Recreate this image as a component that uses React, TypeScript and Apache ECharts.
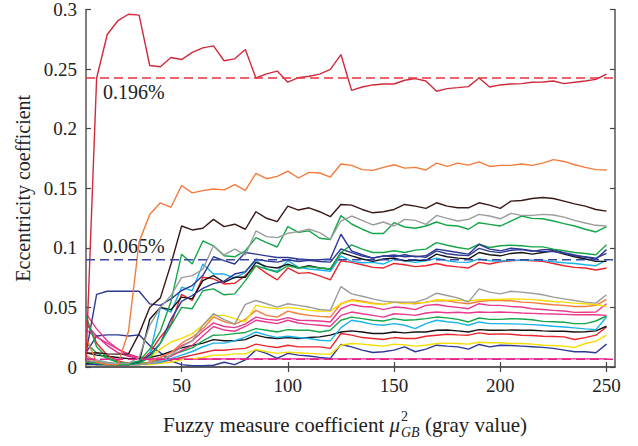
import React, { useEffect, useRef } from "react";
import * as echarts from "echarts";

const grayLevels = [5, 10, 15, 20, 25, 30, 35, 40, 45, 50, 55, 60, 65, 70, 75, 80, 85, 90, 95, 100, 105, 110, 115, 120, 125, 130, 135, 140, 145, 150, 155, 160, 165, 170, 175, 180, 185, 190, 195, 200, 205, 210, 215, 220, 225, 230, 235, 240, 245, 250];
const xTickValues = [50, 100, 150, 200, 250];
const xMin = 5;
const xMax = 254;

const redTop = [0.005, 0.2425, 0.279, 0.2906, 0.296, 0.2953, 0.253, 0.252, 0.2597, 0.258, 0.264, 0.2678, 0.2695, 0.257, 0.2586, 0.2664, 0.2425, 0.246, 0.2483, 0.239, 0.2428, 0.244, 0.2458, 0.2497, 0.2622, 0.2322, 0.235, 0.2367, 0.2375, 0.2375, 0.2406, 0.242, 0.24, 0.2314, 0.2336, 0.2344, 0.2353, 0.2425, 0.235, 0.2367, 0.2375, 0.2378, 0.239, 0.2392, 0.24, 0.2378, 0.239, 0.24, 0.2414, 0.2458];
const orange1 = [0.025, 0.004, 0.002, 0.002, 0.03, 0.105, 0.128, 0.1378, 0.134, 0.1523, 0.1461, 0.148, 0.1494, 0.1486, 0.1531, 0.1483, 0.1625, 0.158, 0.16, 0.1644, 0.1586, 0.1633, 0.1628, 0.1594, 0.1703, 0.1692, 0.1656, 0.165, 0.1675, 0.1697, 0.1669, 0.1675, 0.1653, 0.1711, 0.1683, 0.1711, 0.1694, 0.1722, 0.1683, 0.1692, 0.1692, 0.1703, 0.1692, 0.1711, 0.174, 0.1725, 0.1697, 0.1675, 0.1656, 0.1653];
const brown1 = [0.0114, 0.012, 0.011, 0.0108, 0.011, 0.028, 0.05, 0.058, 0.0864, 0.1183, 0.115, 0.1164, 0.1239, 0.1178, 0.1198, 0.1156, 0.1303, 0.1248, 0.122, 0.135, 0.1317, 0.1336, 0.1303, 0.1261, 0.1364, 0.1358, 0.1322, 0.1294, 0.1303, 0.1322, 0.1364, 0.135, 0.1331, 0.1378, 0.135, 0.1336, 0.1336, 0.1378, 0.1358, 0.1331, 0.1392, 0.1397, 0.1414, 0.1422, 0.1414, 0.1392, 0.1369, 0.135, 0.1322, 0.1308];
const gray1 = [0.008, 0.006, 0.004, 0.003, 0.003, 0.008, 0.035, 0.05, 0.06, 0.075, 0.0767, 0.082, 0.1017, 0.094, 0.099, 0.094, 0.1142, 0.1094, 0.1086, 0.1122, 0.1136, 0.1156, 0.1128, 0.1072, 0.1225, 0.1267, 0.123, 0.1192, 0.1217, 0.1183, 0.1239, 0.123, 0.1197, 0.1272, 0.1247, 0.1225, 0.1239, 0.1281, 0.1267, 0.1244, 0.1289, 0.1272, 0.1272, 0.1281, 0.1275, 0.1258, 0.123, 0.1208, 0.1189, 0.1183];
const green1 = [0.043, 0.017, 0.008, 0.004, 0.003, 0.005, 0.015, 0.03, 0.055, 0.0947, 0.0864, 0.1058, 0.1017, 0.0933, 0.0925, 0.0975, 0.1086, 0.1044, 0.1007, 0.1178, 0.113, 0.1142, 0.108, 0.107, 0.127, 0.12, 0.1156, 0.112, 0.112, 0.1211, 0.1175, 0.1164, 0.1183, 0.1217, 0.1189, 0.1183, 0.1156, 0.1211, 0.1197, 0.1183, 0.1225, 0.1267, 0.1247, 0.1244, 0.1225, 0.1203, 0.1183, 0.1156, 0.1133, 0.1178];
const green2 = [0.004, 0.003, 0.002, 0.002, 0.002, 0.003, 0.008, 0.02, 0.035, 0.05, 0.0489, 0.064, 0.0656, 0.0606, 0.0614, 0.0725, 0.085, 0.0822, 0.0794, 0.085, 0.0831, 0.0842, 0.0831, 0.0822, 0.0961, 0.1025, 0.0989, 0.0961, 0.0961, 0.0975, 0.0961, 0.0981, 0.0989, 0.1044, 0.1022, 0.1003, 0.0989, 0.103, 0.1003, 0.1017, 0.1022, 0.1017, 0.1008, 0.1008, 0.0989, 0.0975, 0.0961, 0.0953, 0.0942, 0.1025];
const navy1 = [0.0114, 0.061, 0.0636, 0.0636, 0.0636, 0.0636, 0.053, 0.0517, 0.0572, 0.0642, 0.0683, 0.0767, 0.0925, 0.0892, 0.0864, 0.0961, 0.0947, 0.0933, 0.0919, 0.0919, 0.0906, 0.09, 0.09, 0.0906, 0.1114, 0.0975, 0.0942, 0.0914, 0.0933, 0.0925, 0.0942, 0.0925, 0.0933, 0.0989, 0.0975, 0.0961, 0.0947, 0.103, 0.0989, 0.0975, 0.0997, 0.0989, 0.0975, 0.0969, 0.0969, 0.0953, 0.0933, 0.0925, 0.0914, 0.0953];
const navy2 = [0.002, 0.002, 0.002, 0.002, 0.002, 0.004, 0.01, 0.02, 0.04, 0.055, 0.06, 0.066, 0.07, 0.072, 0.078, 0.08, 0.0905, 0.089, 0.088, 0.09, 0.0885, 0.0895, 0.0885, 0.088, 0.099, 0.096, 0.093, 0.0915, 0.093, 0.094, 0.0925, 0.093, 0.092, 0.0975, 0.095, 0.094, 0.0935, 0.0995, 0.097, 0.096, 0.098, 0.0985, 0.097, 0.0985, 0.0985, 0.096, 0.094, 0.092, 0.0905, 0.0985];
const black1 = [0.003, 0.002, 0.002, 0.002, 0.002, 0.004, 0.04, 0.05, 0.048, 0.0586, 0.0572, 0.0725, 0.0767, 0.0711, 0.0753, 0.0753, 0.0878, 0.0842, 0.0831, 0.0864, 0.0831, 0.085, 0.0831, 0.0822, 0.0961, 0.0933, 0.0906, 0.0886, 0.0906, 0.0914, 0.0892, 0.0897, 0.0895, 0.0947, 0.0925, 0.0914, 0.0906, 0.0961, 0.0942, 0.0933, 0.0953, 0.0961, 0.0947, 0.0961, 0.0975, 0.0947, 0.0925, 0.0906, 0.0886, 0.0886];
const cyan1 = [0.004, 0.002, 0.002, 0.002, 0.002, 0.003, 0.01, 0.05, 0.046, 0.067, 0.064, 0.0864, 0.078, 0.078, 0.0747, 0.0794, 0.0897, 0.0822, 0.0803, 0.0892, 0.0836, 0.0822, 0.0814, 0.0803, 0.0933, 0.0886, 0.0875, 0.0878, 0.0864, 0.0906, 0.0892, 0.0878, 0.0892, 0.0914, 0.0892, 0.088, 0.0878, 0.0906, 0.0892, 0.089, 0.0895, 0.0897, 0.0897, 0.0895, 0.0883, 0.0875, 0.0869, 0.0858, 0.085, 0.0897];
const red1 = [0.039, 0.02, 0.01, 0.005, 0.003, 0.004, 0.012, 0.025, 0.036, 0.061, 0.0558, 0.0753, 0.074, 0.0697, 0.0703, 0.0767, 0.085, 0.0786, 0.0731, 0.0831, 0.0786, 0.0792, 0.0764, 0.0731, 0.0892, 0.0878, 0.0858, 0.0836, 0.0831, 0.0869, 0.0858, 0.0842, 0.085, 0.0869, 0.085, 0.084, 0.0831, 0.0878, 0.0864, 0.0883, 0.0892, 0.0897, 0.0892, 0.0886, 0.0869, 0.085, 0.0836, 0.0831, 0.0814, 0.0831];
const gray2 = [0.006, 0.004, 0.003, 0.002, 0.002, 0.002, 0.003, 0.005, 0.01, 0.017, 0.022, 0.035, 0.0447, 0.0397, 0.036, 0.0525, 0.0558, 0.0531, 0.0503, 0.0531, 0.0517, 0.0503, 0.0483, 0.0475, 0.0675, 0.0614, 0.0594, 0.0572, 0.0553, 0.0544, 0.0544, 0.0544, 0.0572, 0.0619, 0.06, 0.058, 0.0544, 0.0656, 0.0628, 0.0614, 0.0636, 0.0628, 0.0619, 0.0606, 0.0586, 0.0572, 0.0558, 0.0544, 0.0536, 0.0606];
const yellow1 = [0.002, 0.002, 0.002, 0.002, 0.002, 0.003, 0.008, 0.015, 0.021, 0.024, 0.028, 0.035, 0.0433, 0.0433, 0.0406, 0.0378, 0.0517, 0.05, 0.0489, 0.05, 0.049, 0.0475, 0.047, 0.0469, 0.053, 0.0558, 0.0544, 0.0531, 0.0525, 0.0544, 0.053, 0.0539, 0.054, 0.0564, 0.056, 0.056, 0.0555, 0.0564, 0.0567, 0.0567, 0.0572, 0.057, 0.0565, 0.0558, 0.055, 0.0544, 0.0536, 0.0531, 0.0525, 0.0508];
const orange2 = [0.01, 0.004, 0.002, 0.002, 0.002, 0.002, 0.004, 0.008, 0.012, 0.02, 0.025, 0.032, 0.042, 0.038, 0.036, 0.04, 0.0475, 0.0433, 0.0419, 0.0469, 0.0447, 0.0433, 0.0425, 0.0419, 0.0531, 0.0564, 0.0553, 0.0536, 0.0525, 0.0544, 0.0536, 0.0531, 0.0544, 0.0558, 0.0555, 0.054, 0.0531, 0.055, 0.0558, 0.0558, 0.0556, 0.0544, 0.054, 0.0531, 0.0522, 0.0517, 0.0508, 0.0508, 0.0517, 0.0567];
const pink1 = [0.045, 0.032, 0.022, 0.015, 0.01, 0.008, 0.006, 0.008, 0.012, 0.018, 0.022, 0.03, 0.037, 0.034, 0.033, 0.036, 0.0419, 0.04, 0.0392, 0.0414, 0.0392, 0.039, 0.0386, 0.0378, 0.0489, 0.0525, 0.0508, 0.0503, 0.0481, 0.0503, 0.0497, 0.0481, 0.0517, 0.0525, 0.051, 0.05, 0.0489, 0.0531, 0.0517, 0.0517, 0.0508, 0.0503, 0.0489, 0.0483, 0.0475, 0.047, 0.0458, 0.046, 0.0461, 0.0531];
const pink2 = [0.031, 0.025, 0.02, 0.015, 0.011, 0.008, 0.006, 0.006, 0.009, 0.014, 0.018, 0.026, 0.034, 0.031, 0.03, 0.034, 0.0392, 0.0378, 0.0364, 0.0392, 0.0369, 0.0358, 0.035, 0.0342, 0.0433, 0.0461, 0.0447, 0.0433, 0.0419, 0.0447, 0.0442, 0.0433, 0.0453, 0.0461, 0.0455, 0.046, 0.0453, 0.0461, 0.0458, 0.0461, 0.0458, 0.0453, 0.045, 0.0447, 0.0445, 0.0442, 0.0439, 0.0439, 0.0439, 0.0433];
const green3 = [0.02, 0.012, 0.007, 0.004, 0.003, 0.003, 0.004, 0.006, 0.01, 0.013, 0.016, 0.022, 0.0267, 0.027, 0.028, 0.029, 0.0322, 0.0308, 0.0294, 0.0314, 0.0308, 0.0308, 0.0294, 0.0308, 0.0392, 0.0419, 0.0406, 0.0392, 0.0386, 0.0406, 0.0392, 0.0397, 0.0406, 0.0419, 0.0412, 0.04, 0.0378, 0.0411, 0.04, 0.04, 0.0406, 0.0403, 0.0397, 0.0383, 0.038, 0.0375, 0.0364, 0.0364, 0.0386, 0.0428];
const cyan2 = [0.008, 0.005, 0.003, 0.002, 0.002, 0.002, 0.003, 0.004, 0.007, 0.01, 0.013, 0.017, 0.02, 0.02, 0.022, 0.025, 0.0294, 0.0267, 0.0247, 0.0258, 0.0247, 0.0239, 0.0225, 0.0219, 0.033, 0.0392, 0.0378, 0.0358, 0.035, 0.0364, 0.035, 0.0322, 0.0364, 0.0392, 0.038, 0.037, 0.035, 0.0378, 0.0364, 0.0364, 0.0362, 0.036, 0.0356, 0.035, 0.0342, 0.0336, 0.0328, 0.032, 0.0314, 0.0419];
const black2 = [0.012, 0.01, 0.009, 0.008, 0.007, 0.007, 0.008, 0.01, 0.013, 0.016, 0.018, 0.02, 0.023, 0.022, 0.022, 0.023, 0.0267, 0.0247, 0.0239, 0.0247, 0.0239, 0.0247, 0.0253, 0.0267, 0.0294, 0.0303, 0.0294, 0.0281, 0.0281, 0.0294, 0.0286, 0.0294, 0.0294, 0.0308, 0.031, 0.0303, 0.0294, 0.0314, 0.0308, 0.0308, 0.031, 0.0308, 0.0308, 0.0303, 0.03, 0.03, 0.0294, 0.0296, 0.0303, 0.0342];
const red2 = [0.005, 0.003, 0.002, 0.002, 0.002, 0.002, 0.003, 0.004, 0.006, 0.008, 0.01, 0.012, 0.014, 0.014, 0.015, 0.0156, 0.0192, 0.0175, 0.0164, 0.0183, 0.0169, 0.0169, 0.0169, 0.0156, 0.0281, 0.0267, 0.0247, 0.0239, 0.0231, 0.0247, 0.0239, 0.0239, 0.0258, 0.0267, 0.0275, 0.027, 0.0267, 0.0286, 0.0275, 0.0278, 0.0275, 0.0267, 0.0264, 0.0258, 0.0256, 0.0253, 0.0231, 0.0247, 0.0267, 0.0336];
const yellow2 = [0.004, 0.003, 0.002, 0.002, 0.002, 0.002, 0.002, 0.003, 0.004, 0.006, 0.007, 0.008, 0.01, 0.01, 0.011, 0.011, 0.0147, 0.0128, 0.0114, 0.0125, 0.0119, 0.0114, 0.0108, 0.0108, 0.0183, 0.0197, 0.0192, 0.0183, 0.0175, 0.0192, 0.0186, 0.0175, 0.0183, 0.0197, 0.02, 0.0197, 0.0192, 0.0208, 0.0203, 0.0203, 0.0197, 0.0197, 0.0192, 0.0183, 0.018, 0.0175, 0.0164, 0.0197, 0.0217, 0.0267];
const navyLow = [0.012, 0.026, 0.027, 0.027, 0.026, 0.027, 0.018, 0.012, 0.005, 0.002, 0.001, 0.001, 0.0015, 0.004, 0.002, 0.006, 0.0142, 0.0114, 0.0072, 0.0114, 0.01, 0.0092, 0.0081, 0.0072, 0.0189, 0.0169, 0.0142, 0.0122, 0.0128, 0.0142, 0.0169, 0.0128, 0.015, 0.0183, 0.0175, 0.0169, 0.015, 0.0189, 0.0169, 0.0183, 0.018, 0.0175, 0.017, 0.0165, 0.0156, 0.0142, 0.0128, 0.0128, 0.0119, 0.0192];
const pinkFlat = [0.036, 0.026, 0.018, 0.012, 0.009, 0.007, 0.0068, 0.0067, 0.0066, 0.0066, 0.0066, 0.0067, 0.0067, 0.0068, 0.0068, 0.0068, 0.0068, 0.0068, 0.0068, 0.0068, 0.0068, 0.0068, 0.0068, 0.0068, 0.0068, 0.0068, 0.0068, 0.0068, 0.0068, 0.0068, 0.0068, 0.0068, 0.0068, 0.0068, 0.0068, 0.0068, 0.0068, 0.0068, 0.0068, 0.0068, 0.0068, 0.0068, 0.0068, 0.0068, 0.0068, 0.0068, 0.0068, 0.0068, 0.0068, 0.0068];

const thresholdValues = [0.2425, 0.09, 0.0065];
const thresholdLabels = ["0.196%", "0.065%", ""];
const thresholdColors = ["#e8323c", "#3a45a0", "#e4238b"];

const xTitleParts = ["Fuzzy measure coefficient ", "\u03bc", "2", "GB", " (gray value)"];
const yTitle = "Eccentricity coefficient";

const FONT = "'Liberation Serif', 'Times New Roman', serif";

const C = {
  redTop: "#d02a3c",
  red: "#e8262d",
  orange: "#f47b3b",
  brown: "#3b1818",
  gray: "#9c9c9c",
  green: "#16a64a",
  navy: "#2d3994",
  black: "#141414",
  cyan: "#1bb3ea",
  yellow: "#f6dc00",
  pink: "#e8398e",
  magenta: "#e4238b",
};

function measure(text: string, font: string): number {
  const ctx = document.createElement("canvas").getContext("2d");
  if (!ctx) return text.length * 9;
  ctx.font = font;
  return ctx.measureText(text).width;
}

export default function App() {
  const ref = useRef<HTMLDivElement>(null);

  useEffect(() => {
    if (!ref.current) return;
    const chart = echarts.init(ref.current, null, { renderer: "svg" });

    const mk = (name: string, data: number[], color: string) => ({
      name,
      type: "line",
      data: grayLevels.map((g, i) => [g, data[i]]),
      symbol: "none",
      silent: true,
      lineStyle: { color, width: 1.4 },
      itemStyle: { color },
      emphasis: { disabled: true },
    });

    const thresholdSeries = thresholdValues.map((v, i) => ({
      name: "threshold" + i,
      type: "line",
      data: [
        [xMin, v],
        [xMax, v],
      ],
      symbol: "none",
      silent: true,
      z: 5,
      lineStyle: { color: thresholdColors[i], width: 1.3, type: [9, 5] },
      itemStyle: { color: thresholdColors[i] },
      emphasis: { disabled: true },
    }));

    const series = [
      mk("pinkFlat", pinkFlat, C.magenta),
      mk("navyLow", navyLow, C.navy),
      mk("yellow2", yellow2, C.yellow),
      mk("red2", red2, C.red),
      mk("black2", black2, C.black),
      mk("cyan2", cyan2, C.cyan),
      mk("green3", green3, C.green),
      mk("pink2", pink2, C.pink),
      mk("pink1", pink1, C.pink),
      mk("orange2", orange2, C.orange),
      mk("yellow1", yellow1, C.yellow),
      mk("gray2", gray2, C.gray),
      mk("red1", red1, C.red),
      mk("cyan1", cyan1, C.cyan),
      mk("black1", black1, C.black),
      mk("navy2", navy2, C.navy),
      mk("green2", green2, C.green),
      mk("navy1", navy1, C.navy),
      mk("green1", green1, C.green),
      mk("gray1", gray1, C.gray),
      mk("brown1", brown1, C.brown),
      mk("orange1", orange1, C.orange),
      mk("redTop", redTop, C.redTop),
      ...thresholdSeries,
    ];

    const axisLine = { show: true, lineStyle: { color: "#555", width: 1.5 } };
    const tick = { show: true, inside: true, length: 5, lineStyle: { color: "#444", width: 1.2 } };
    const labelStyle = { fontFamily: FONT, fontSize: 19, color: "#222" };

    const fMain = `21px ${FONT}`;
    const fItal = `italic 21px ${FONT}`;
    const fSmall = `14px ${FONT}`;
    const fSmallIt = `italic 14px ${FONT}`;
    const w0 = measure(xTitleParts[0], fMain);
    const wMu = measure(xTitleParts[1], fItal);
    const wSup = measure(xTitleParts[2], fSmall);
    const wSub = measure(xTitleParts[3], fSmallIt);
    const scriptW = Math.max(wSup, wSub);
    const w4 = measure(xTitleParts[4], fMain);
    const total = w0 + wMu + 1 + scriptW + w4;
    const x0 = 345 - total / 2;
    const yMid = 425;

    const textEl = (text: string, x: number, y: number, size: number, italic: boolean) => ({
      type: "text",
      x,
      y,
      silent: true,
      style: {
        text,
        fontFamily: FONT,
        fontSize: size,
        fontStyle: italic ? "italic" : "normal",
        fill: "#222",
        verticalAlign: "middle",
        align: "left",
      },
    });

    const titleEls = [
      textEl(xTitleParts[0], x0, yMid, 21, false),
      textEl(xTitleParts[1], x0 + w0, yMid, 21, true),
      textEl(xTitleParts[2], x0 + w0 + wMu + 1, yMid - 9, 14, false),
      textEl(xTitleParts[3], x0 + w0 + wMu + 1, yMid + 7, 14, true),
      textEl(xTitleParts[4], x0 + w0 + wMu + 1 + scriptW, yMid, 21, false),
    ];

    const option: any = {
      animation: false,
      backgroundColor: "#ffffff",
      grid: { left: 86, right: 23, top: 7, bottom: 79, containLabel: false },
      xAxis: [
        {
          type: "value",
          min: xMin,
          max: xMax,
          position: "bottom",
          axisLine,
          axisTick: { ...tick, customValues: xTickValues },
          axisLabel: { ...labelStyle, margin: 9, customValues: xTickValues },
          splitLine: { show: false },
        },
        {
          type: "value",
          min: xMin,
          max: xMax,
          position: "top",
          axisLine,
          axisTick: { ...tick, customValues: xTickValues },
          axisLabel: { show: false, customValues: xTickValues },
          splitLine: { show: false },
        },
      ],
      yAxis: [
        {
          type: "value",
          min: 0,
          max: 0.3,
          interval: 0.05,
          position: "left",
          name: yTitle,
          nameLocation: "middle",
          nameRotate: 90,
          nameGap: 53,
          nameTextStyle: { fontFamily: FONT, fontSize: 20, color: "#222" },
          axisLine,
          axisTick: tick,
          axisLabel: { ...labelStyle, margin: 9 },
          splitLine: { show: false },
        },
        {
          type: "value",
          min: 0,
          max: 0.3,
          interval: 0.05,
          position: "right",
          axisLine,
          axisTick: tick,
          axisLabel: { show: false },
          splitLine: { show: false },
        },
      ],
      series,
      graphic: titleEls,
    };

    chart.setOption(option);

    const offsets = [14, -14];
    const labelEls: any[] = [];
    thresholdLabels.forEach((t, i) => {
      if (!t) return;
      const p = chart.convertToPixel({ gridIndex: 0 }, [xMin, thresholdValues[i]]) as number[];
      labelEls.push(textEl(t, p[0] + 17, p[1] + offsets[i], 20, false));
    });
    chart.setOption({ graphic: [...titleEls, ...labelEls] });

    return () => chart.dispose();
  }, []);

  return (
    <div
      ref={ref}
      style={{ position: "fixed", left: 0, top: 0, width: 638, height: 446, background: "#fff" }}
    />
  );
}
